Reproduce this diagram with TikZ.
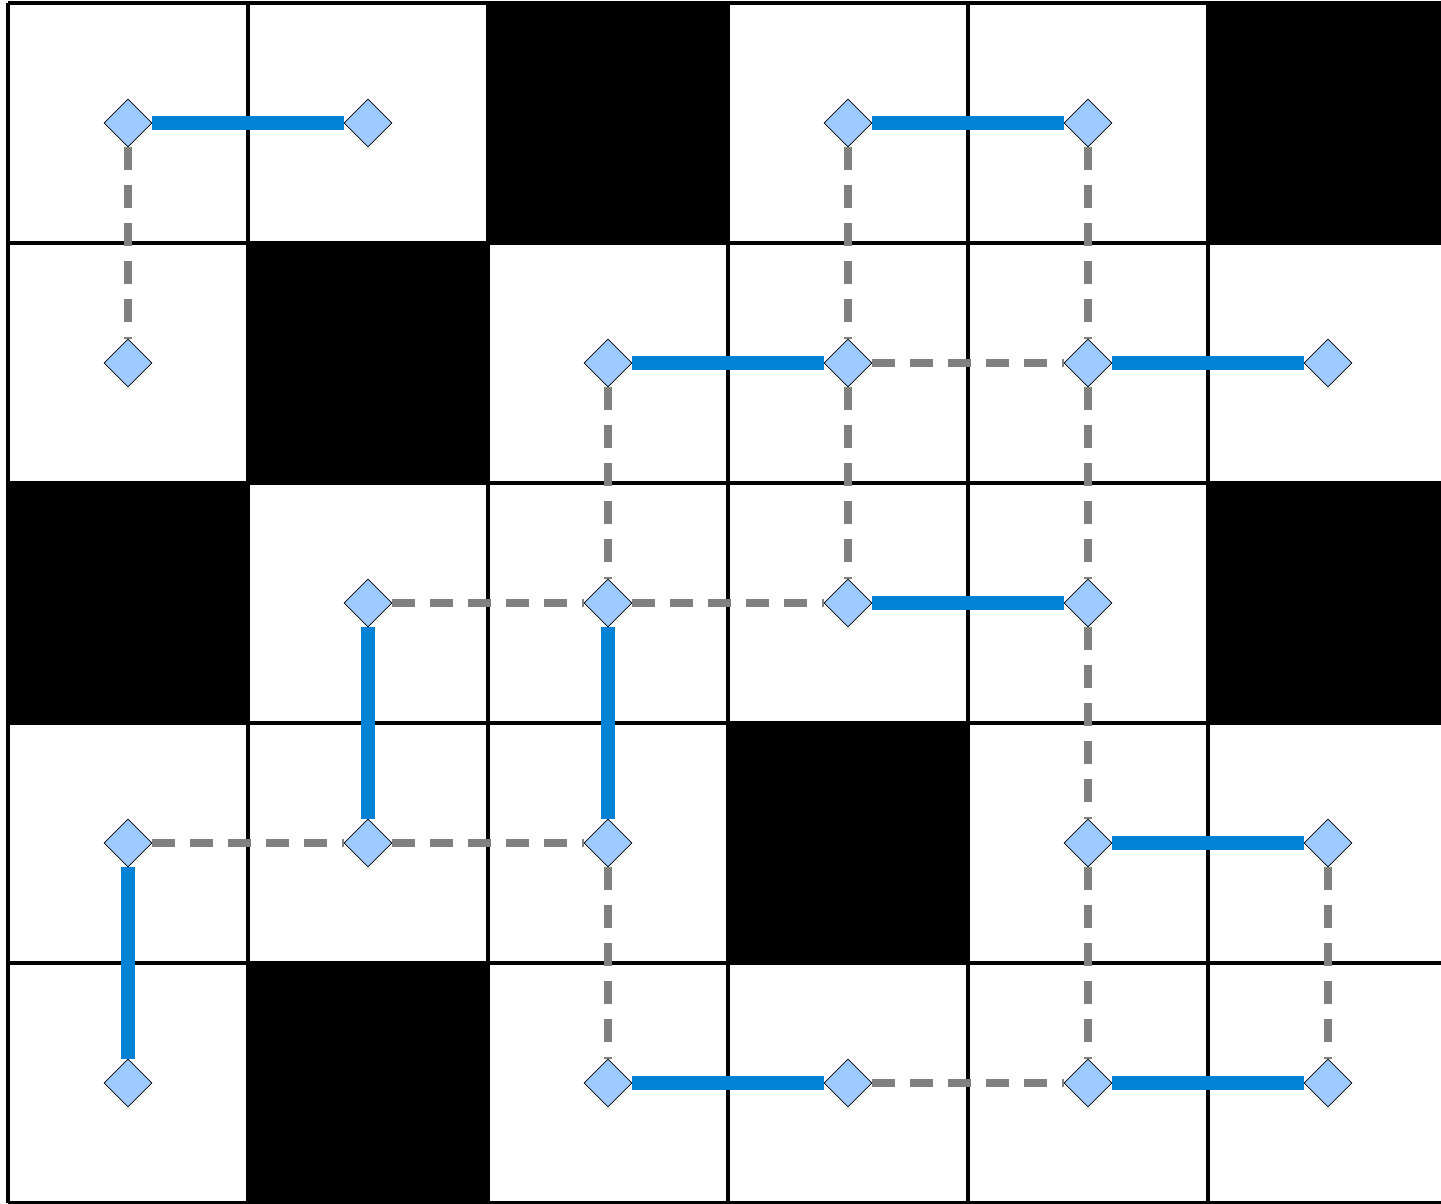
\documentclass[tikz,border=0pt]{standalone}
\usetikzlibrary{shapes.geometric}
\definecolor{gdnode}{HTML}{9ECBFF}
\definecolor{gdmatch}{HTML}{0083D4}
\definecolor{gdfree}{HTML}{808080}
\tikzset{
  gdcell/.style={draw=black, line width=2.4pt},
  gdvert/.style={diamond, draw=black, fill=gdnode, line width=0.5pt,
    minimum width=1.2cm, minimum height=1.2cm, inner sep=0pt},
  gdmatched/.style={draw=gdmatch, line width=10pt},
  gdunmatched/.style={draw=gdfree, line width=5.2pt,
    dash pattern=on 16pt off 11pt},
}
\begin{document}
\begin{tikzpicture}[x=6cm, y=6cm]
\useasboundingbox (-0.0333, -0.004) rectangle (5.9708, 5.0125);

% Blocked cells, (column, row from top).
\foreach \c/\r in {2/0, 5/0, 1/1, 0/2, 5/2, 3/3, 1/4} {
  \fill[black] (\c, 4 - \r) rectangle ++(1, 1);
}

% Grid.
\foreach \c in {0,...,6} {
  \draw[gdcell] (\c, 0) -- (\c, 5);
}
\foreach \r in {0,...,5} {
  \draw[gdcell] (0, \r) -- (6, \r);
}

% ----------------------------------------------------------- vertices
\foreach \r/\c in {0/0, 0/1, 0/3, 0/4,
                   1/0, 1/2, 1/3, 1/4, 1/5,
                   2/1, 2/2, 2/3, 2/4,
                   3/0, 3/1, 3/2, 3/4, 3/5,
                   4/0, 4/2, 4/3, 4/4, 4/5} {
  \node[gdvert] (n\r\c) at ({\c + 0.5}, {4.5 - \r}) {};
}

% ------------------------------------------------------ unmatched edges
\foreach \a/\b in {n00/n10, n03/n13, n04/n14, n13/n14,
                   n12/n22, n13/n23, n14/n24, n21/n22, n22/n23,
                   n24/n34, n30/n31, n31/n32, n32/n42, n34/n44,
                   n35/n45, n43/n44} {
  \draw[gdunmatched] (\a) -- (\b);
}

% -------------------------------------------------------- matched edges
\foreach \a/\b in {n00/n01, n03/n04, n12/n13, n14/n15, n23/n24,
                   n21/n31, n22/n32, n30/n40, n34/n35, n42/n43,
                   n44/n45} {
  \draw[gdmatched] (\a) -- (\b);
}

\end{tikzpicture}
\end{document}
